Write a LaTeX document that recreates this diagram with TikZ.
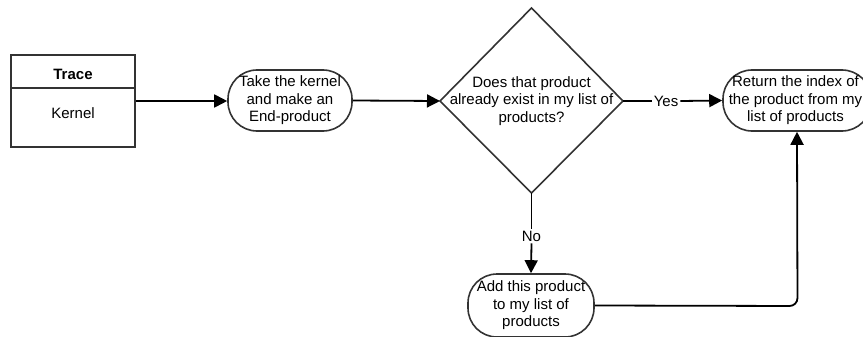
\documentclass[tikz,border=0pt]{standalone}
\usepackage{fontspec}
\setmainfont{Liberation Sans}
\usetikzlibrary{arrows.meta}
\definecolor{bord}{HTML}{333333}
\begin{document}
\begin{tikzpicture}[x=1pt,y=-1pt,
  txt/.style={font=\fontsize{15}{17.5}\selectfont, align=center},
  roundbox/.style={txt, draw=bord, line width=1.6pt, rounded corners=29pt, inner sep=0pt},
  conn/.style={line width=1.8pt, -{Triangle[length=13pt,width=13pt]}},
  plain/.style={line width=1.8pt}
]
\useasboundingbox (0,0) rectangle (863,337);
% Trace box
\node[draw=bord, line width=1.6pt, minimum width=124pt, minimum height=92pt, inner sep=0pt] (trace) at (73,101) {};
\draw[bord, line width=1.6pt] (trace.west |- 0,88) -- (trace.east |- 0,88);
\node[txt, font=\fontsize{15}{17.5}\selectfont\bfseries] (tracet) at (73,74) {Trace};
\node[txt] (kernel) at (73,113) {Kernel};
% nodes
\node[roundbox, minimum width=124pt, minimum height=61pt] (take) at (290,100.5) {Take the kernel\\and make an\\End-product};
% decision diamond
\coordinate (dtop) at (531.5,8);
\coordinate (dleft) at (440,101);
\coordinate (dright) at (623,101);
\coordinate (dbot) at (531.5,193);
\draw[bord, line width=1.6pt, line join=miter] (dtop) -- (dright) -- (dbot) -- (dleft) -- cycle;
\node[txt] (dec) at (531.5,101) {Does that product\\already exist in my list of\\products?};
\node[roundbox, minimum width=148pt, minimum height=61pt] (ret) at (797,100.5) {};
\node[txt] (rett) at (795.5,100.5) {Return the index of\\the product from my\\list of products};
\node[roundbox, minimum width=126pt, minimum height=63pt] (add) at (531,305.5) {Add this product\\to my list of\\products};
\node[txt, fill=white, inner sep=2pt] (yes) at (666,101) {Yes};
\node[txt, fill=white, inner sep=2pt] (no) at (531.5,236) {No};
\coordinate (corner) at (797.5,306);
% connectors
\draw[conn] (trace.east) -- (trace.east -| take.west);
\draw[conn] (take.east) -- (dleft);
\draw[plain] (dright) -- (yes.west);
\draw[conn] (yes.east) -- (ret.west);
\draw[plain] (dbot) -- (no.north);
\draw[conn] (no.south) -- (add.north);
\draw[conn, rounded corners=8pt] (add.east) -- (corner) -- (ret.south);
\end{tikzpicture}
\end{document}
